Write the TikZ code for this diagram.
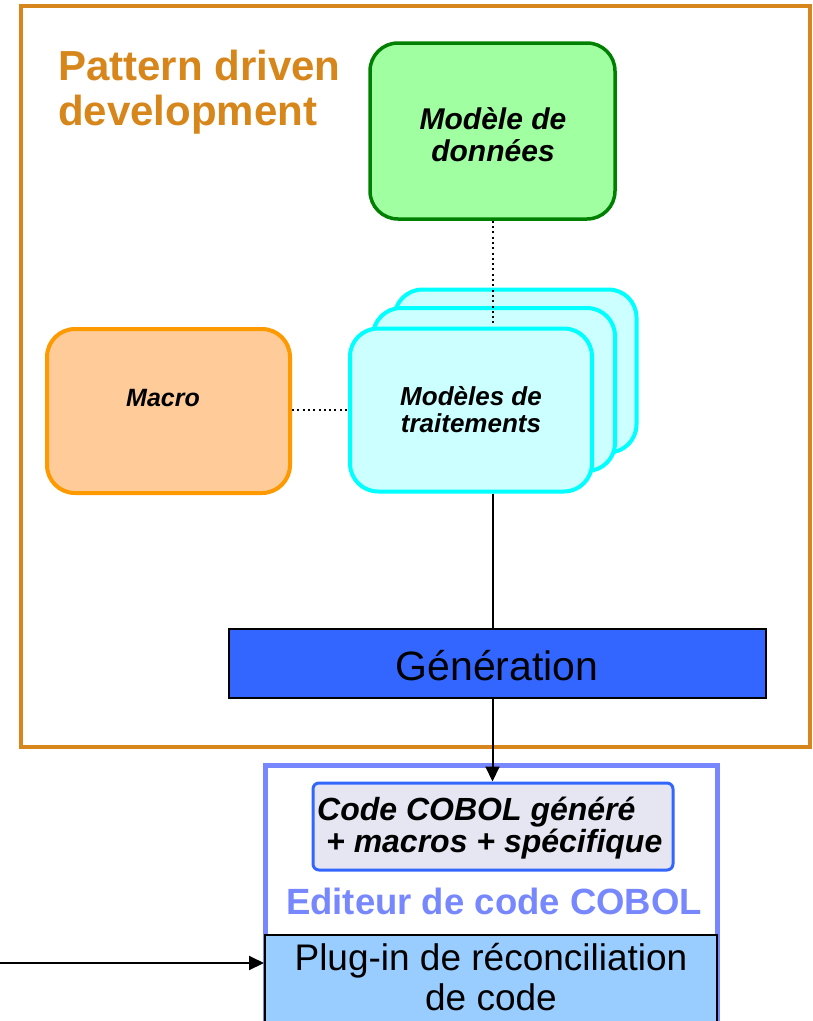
\documentclass[tikz,border=0pt]{standalone}
\usepackage{fontspec}
\setmainfont{Liberation Sans}
\usetikzlibrary{arrows.meta}
\definecolor{pddorange}{RGB}{214,134,26}
\definecolor{datafill}{RGB}{160,255,160}
\definecolor{datadraw}{RGB}{0,128,0}
\definecolor{cyanfill}{RGB}{204,255,255}
\definecolor{cyandraw}{RGB}{0,255,255}
\definecolor{macrofill}{RGB}{255,204,153}
\definecolor{macrodraw}{RGB}{255,153,0}
\definecolor{genfill}{RGB}{51,102,255}
\definecolor{editdraw}{RGB}{119,136,255}
\definecolor{codefill}{RGB}{230,230,242}
\definecolor{plugfill}{RGB}{153,204,255}
\tikzset{
  roundbox/.style={draw, rounded corners=28pt, line width=4pt, inner sep=0pt, align=center},
  cyanbox/.style={roundbox, fill=cyanfill, draw=cyandraw, minimum width=242pt, minimum height=163pt},
  dotline/.style={line width=2pt, dash pattern=on 2pt off 3.3pt, line cap=butt},
  conn/.style={line width=2pt},
  arr/.style={line width=2pt, -{Triangle[length=15pt,width=14pt]}},
}
\begin{document}
\begin{tikzpicture}[x=1pt,y=-1pt]
\useasboundingbox (0,0) rectangle (813,1021);
\clip (0,0) rectangle (813,1021);

% outer frame
\node[draw=pddorange, line width=4pt, minimum width=789pt, minimum height=741pt, inner sep=0pt] (pdd) at (415.5,376.5) {};
\node[anchor=west, align=left, inner sep=0pt, text=pddorange,
      font=\fontsize{42}{45}\selectfont\bfseries] (title) at (58,92) {Pattern driven\\development};

% data model
\node[roundbox, fill=datafill, draw=datadraw, line width=3.5pt, minimum width=245pt, minimum height=176pt] (data) at (492.5,131) {};
\node[inner sep=0pt, align=center, font=\fontsize{30}{32}\selectfont\bfseries\itshape] (datatxt) at (493,135) {Modèle de\\données};

% stacked processing models
\node[cyanbox] (back) at (515.5,371) {};
\node[cyanbox] (mid) at (494,389.5) {};
\node[cyanbox, font=\fontsize{26}{27}\selectfont\bfseries\itshape] (front) at (471,410) {Modèles de\\traitements};

% macro
\node[roundbox, fill=macrofill, draw=macrodraw, minimum width=243pt, minimum height=164pt] (macro) at (168.5,411) {};
\node[inner sep=0pt, font=\fontsize{25}{27}\selectfont\bfseries\itshape] (macrotxt) at (163,398) {Macro};

% dotted links
\draw[dotline] (data.south) -- (front.north -| data.south);
\draw[dotline] (macro.east |- front.west) -- (front.west);

% generation
\node[draw, fill=genfill, line width=2pt, minimum width=537pt, minimum height=69pt, inner sep=0pt] (gen) at (497.5,663.5) {};
\node[inner sep=0pt, font=\fontsize{41}{45}\selectfont] (gentxt) at (497,666) {Génération};
\draw[conn] (front.south -| data.south) -- (gen.north -| data.south);

% editor frame
\node[draw=editdraw, fill=white, line width=5pt, minimum width=452pt, minimum height=295pt, inner sep=0pt] (edit) at (491,912.5) {};
\node[draw=genfill, fill=codefill, line width=3pt, rounded corners=6pt, minimum width=360pt, minimum height=87pt, inner sep=0pt] (code) at (493,826.5) {};
\node[anchor=west, align=left, inner sep=0pt, font=\fontsize{32}{32}\selectfont\bfseries\itshape] (codetxt) at (317,828)
  {Code COBOL généré\\\hspace*{9pt}+ macros + spécifique};
\draw[arr] (gen.south -| data.south) -- (code.north -| data.south);
\node[inner sep=0pt, text=editdraw, font=\fontsize{36.5}{40}\selectfont\bfseries] (edittxt) at (494,901.5) {Editeur de code COBOL};

% plug-in
\node[draw, fill=plugfill, line width=2pt, minimum width=452pt, minimum height=125pt, inner sep=0pt] (plug) at (491,997.5) {};
\node[inner sep=0pt, align=center, font=\fontsize{37}{40}\selectfont] (plugtxt) at (491,977.5) {Plug-in de réconciliation\\de code};
\coordinate (src) at (0,963);
\draw[arr] (src) -- (src -| plug.west);
\end{tikzpicture}
\end{document}
